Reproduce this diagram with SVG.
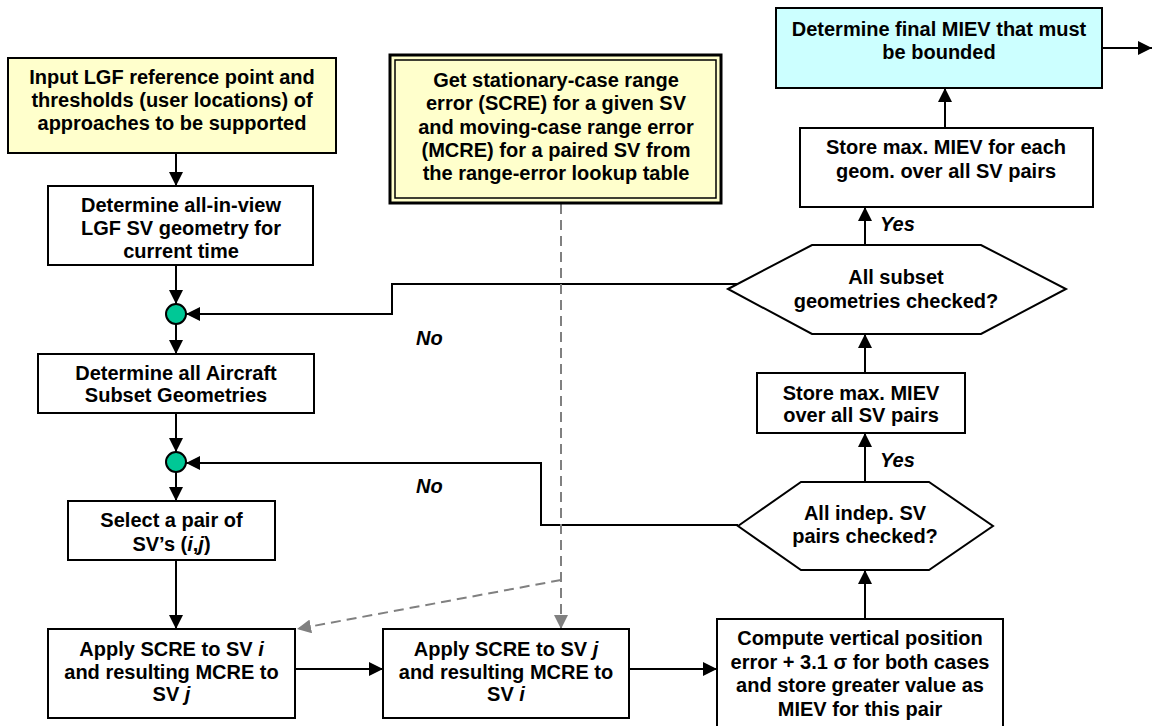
<svg xmlns="http://www.w3.org/2000/svg" width="1153" height="726" viewBox="0 0 1153 726">
<style>
.box{fill:#fff;stroke:#000;stroke-width:2}
.yel{fill:#ffffcc;stroke:#000;stroke-width:2}
.cyan{fill:#ccffff;stroke:#000;stroke-width:2}
.t{font-family:"Liberation Sans",Arial,sans-serif;font-weight:bold;font-size:20px;fill:#000;text-anchor:middle}
.lbl{font-family:"Liberation Sans",Arial,sans-serif;font-weight:bold;font-style:italic;font-size:20px;fill:#000}
.c{fill:none;stroke:#000;stroke-width:2}
.d{fill:none;stroke:#808080;stroke-width:2;stroke-dasharray:10,6}
.dot{fill:#00c896;stroke:#000;stroke-width:2}
</style>
<defs>
<marker id="ah" markerUnits="userSpaceOnUse" markerWidth="15" markerHeight="14" refX="14" refY="7" orient="auto"><path d="M0,0 L14,7 L0,14 z" fill="#000"/></marker>
<marker id="ag" markerUnits="userSpaceOnUse" markerWidth="15" markerHeight="14" refX="14" refY="7" orient="auto"><path d="M0,0 L14,7 L0,14 z" fill="#808080"/></marker>
</defs>

<g id="connectors">
<path class="c" d="M176,153 V186" marker-end="url(#ah)"/>
<path class="c" d="M176,265 V304" marker-end="url(#ah)"/>
<path class="c" d="M176,324 V354" marker-end="url(#ah)"/>
<path class="c" d="M176,413 V452" marker-end="url(#ah)"/>
<path class="c" d="M176,472 V501" marker-end="url(#ah)"/>
<path class="c" d="M176,560 V629" marker-end="url(#ah)"/>
<path class="c" d="M295,669 H383" marker-end="url(#ah)"/>
<path class="c" d="M629,669 H717" marker-end="url(#ah)"/>
<path class="c" d="M865,619 V570" marker-end="url(#ah)"/>
<path class="c" d="M865,482 V433" marker-end="url(#ah)"/>
<path class="c" d="M865,373 V334" marker-end="url(#ah)"/>
<path class="c" d="M865,245 V207" marker-end="url(#ah)"/>
<path class="c" d="M945,128 V88" marker-end="url(#ah)"/>
<path class="c" d="M1102,48 H1152" marker-end="url(#ah)"/>
<path class="c" d="M737,284 H392 V314 H186" marker-end="url(#ah)"/>
<path class="c" d="M738,525 H541 V463 H186" marker-end="url(#ah)"/>
<path class="d" d="M561,204 V629" marker-end="url(#ag)"/>
<path class="d" d="M561,580 L297,629" marker-end="url(#ag)"/>
<text class="lbl" x="416" y="345">No</text>
<text class="lbl" x="416" y="493">No</text>
<text class="lbl" x="880" y="231">Yes</text>
<text class="lbl" x="880" y="467">Yes</text>
</g>

<g id="input">
<rect class="yel" x="8" y="58" width="328" height="95"/>
<text class="t" x="172" y="84">Input LGF reference point and</text>
<text class="t" x="172" y="107">thresholds (user locations) of</text>
<text class="t" x="172" y="130">approaches to be supported</text>
</g>

<g id="lookup">
<rect x="390" y="55" width="331" height="148" fill="#ffffcc" stroke="#000" stroke-width="3"/>
<rect x="395" y="60" width="321" height="138" fill="none" stroke="#000" stroke-width="1.5"/>
<text class="t" x="556" y="87">Get stationary-case range</text>
<text class="t" x="556" y="110">error (SCRE) for a given SV</text>
<text class="t" x="556" y="134">and moving-case range error</text>
<text class="t" x="556" y="157">(MCRE) for a paired SV from</text>
<text class="t" x="556" y="180">the range-error lookup table</text>
</g>

<g id="final">
<rect class="cyan" x="776" y="8" width="326" height="80"/>
<text class="t" x="939" y="36">Determine final MIEV that must</text>
<text class="t" x="939" y="59">be bounded</text>
</g>

<g id="allinview">
<rect class="box" x="48" y="186" width="265" height="79"/>
<text class="t" x="181" y="212">Determine all-in-view</text>
<text class="t" x="181" y="235">LGF SV geometry for</text>
<text class="t" x="181" y="258">current time</text>
</g>

<g id="join1"><circle class="dot" cx="176" cy="314" r="10"/></g>

<g id="subsets">
<rect class="box" x="38" y="354" width="276" height="59"/>
<text class="t" x="176" y="380">Determine all Aircraft</text>
<text class="t" x="176" y="402">Subset Geometries</text>
</g>

<g id="join2"><circle class="dot" cx="176" cy="462" r="10"/></g>

<g id="select">
<rect class="box" x="68" y="501" width="207" height="59"/>
<text class="t" x="171.5" y="527">Select a pair of</text>
<text class="t" x="171.5" y="551">SV’s (<tspan font-style="italic">i</tspan>,<tspan font-style="italic">j</tspan>)</text>
</g>

<g id="applyi">
<rect class="box" x="48" y="629" width="247" height="89"/>
<text class="t" x="171.5" y="656">Apply SCRE to SV <tspan font-style="italic">i</tspan></text>
<text class="t" x="171.5" y="679">and resulting MCRE to</text>
<text class="t" x="171.5" y="701">SV <tspan font-style="italic">j</tspan></text>
</g>

<g id="applyj">
<rect class="box" x="383" y="629" width="246" height="89"/>
<text class="t" x="506" y="656">Apply SCRE to SV <tspan font-style="italic">j</tspan></text>
<text class="t" x="506" y="679">and resulting MCRE to</text>
<text class="t" x="506" y="701">SV <tspan font-style="italic">i</tspan></text>
</g>

<g id="compute">
<rect class="box" x="717" y="619" width="286" height="108"/>
<text class="t" x="860" y="645">Compute vertical position</text>
<text class="t" x="860" y="668.5">error + 3.1 σ for both cases</text>
<text class="t" x="860" y="692">and store greater value as</text>
<text class="t" x="860" y="715.5">MIEV for this pair</text>
</g>

<g id="pairscheck">
<polygon class="box" points="738,526 801,482 929,482 993,526 929,570 801,570"/>
<text class="t" x="865" y="520">All indep. SV</text>
<text class="t" x="865" y="543">pairs checked?</text>
</g>

<g id="storepairs">
<rect class="box" x="757" y="373" width="208" height="60"/>
<text class="t" x="861" y="400">Store max. MIEV</text>
<text class="t" x="861" y="422">over all SV pairs</text>
</g>

<g id="geomcheck">
<polygon class="box" points="728,289 812,245 981,245 1066,289 981,334 812,334"/>
<text class="t" x="896" y="284">All subset</text>
<text class="t" x="896" y="308">geometries checked?</text>
</g>

<g id="storegeom">
<rect class="box" x="800" y="128" width="293" height="79"/>
<text class="t" x="946" y="154">Store max. MIEV for each</text>
<text class="t" x="946" y="178">geom. over all SV pairs</text>
</g>
</svg>
